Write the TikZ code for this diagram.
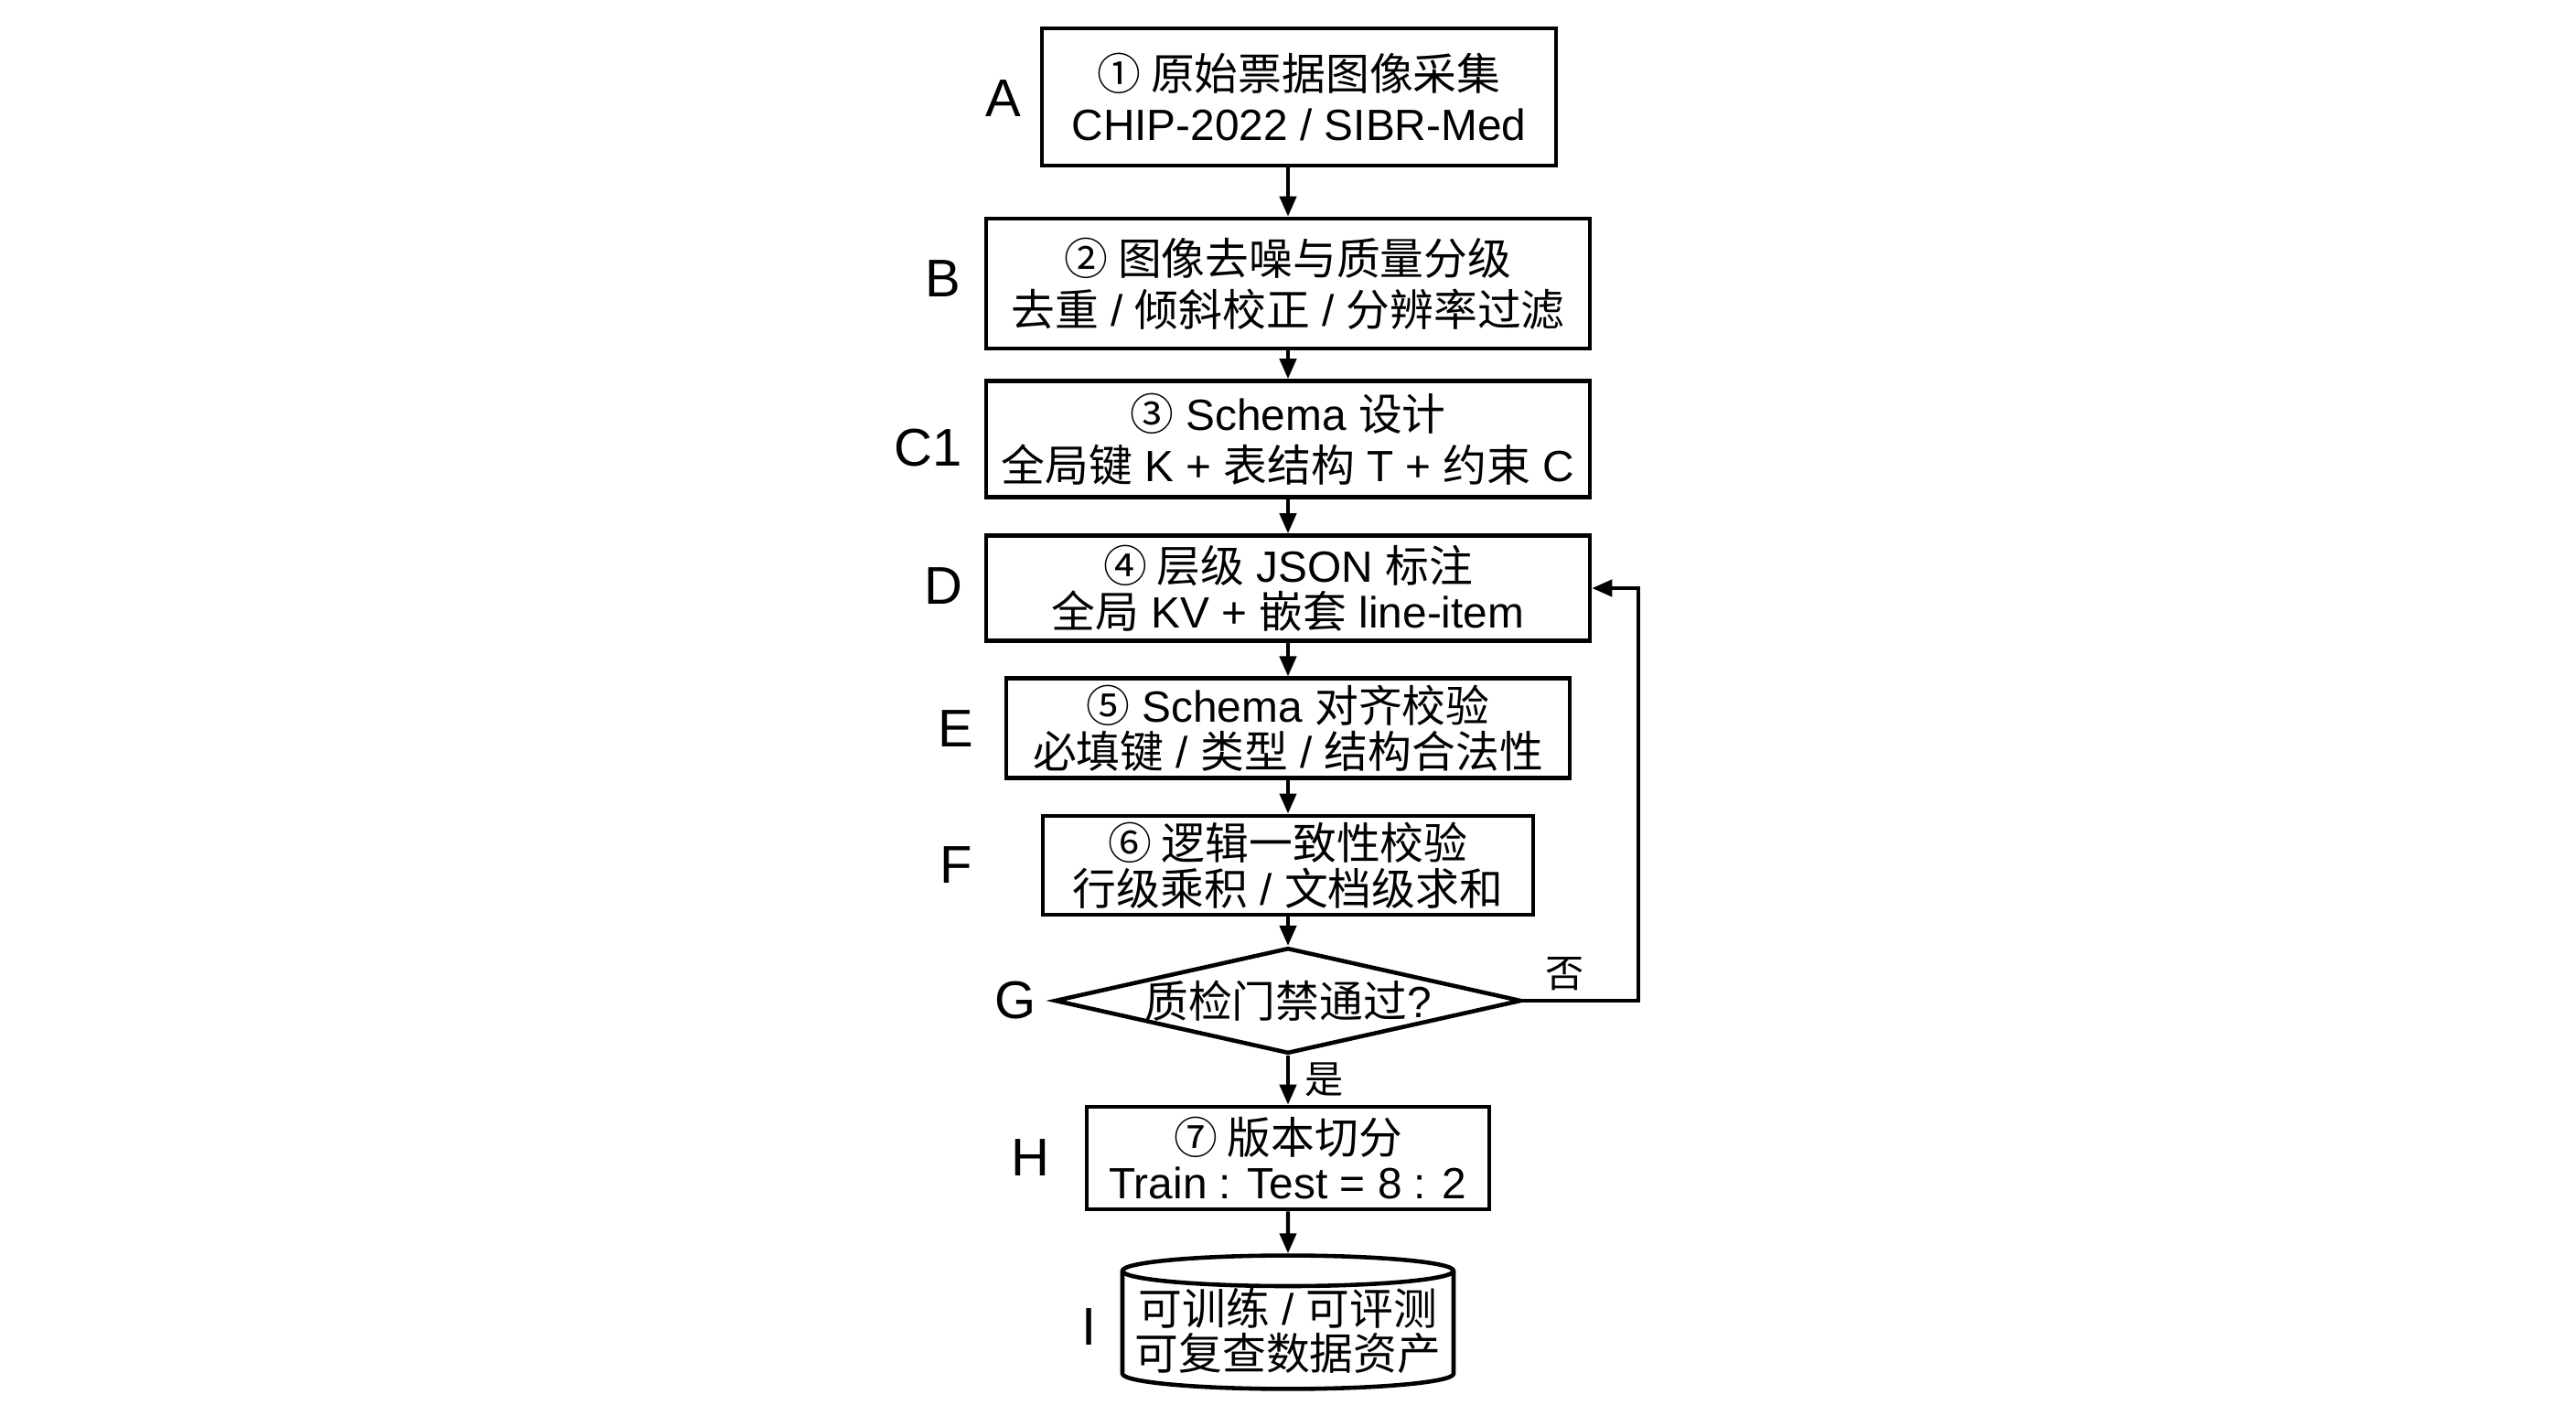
\documentclass[tikz,border=0pt]{standalone}
\usepackage{fontspec}
\setmainfont{Liberation Sans}
\newfontfamily\cjk{Noto Sans CJK SC}
\newcommand{\zh}[1]{{\cjk #1}}
\usetikzlibrary{shapes.geometric, arrows.meta, positioning}
\tikzset{
  stepbox/.style={rectangle, draw=black, line width=1.3pt, align=center,
    inner sep=2pt, font=\fontsize{13.6pt}{15.9pt}\selectfont},
  tight/.style={font=\fontsize{13.6pt}{14.2pt}\selectfont},
  gate/.style={diamond, draw=black, line width=1.3pt, aspect=4.4,
    inner sep=0pt, minimum width=5.10cm, minimum height=1.15cm,
    font=\fontsize{13.6pt}{15.9pt}\selectfont},
  store/.style={cylinder, shape border rotate=90, aspect=0.1, draw=black,
    line width=1.3pt, minimum width=3.62cm, minimum height=1.40cm,
    align=center, inner sep=0pt, font=\fontsize{13.6pt}{13.9pt}\selectfont},
  steplabel/.style={font=\fontsize{16.5pt}{18pt}\selectfont},
  branch/.style={font=\fontsize{12pt}{14pt}\selectfont},
  arrow/.style={-{Triangle[length=0.22cm,width=0.18cm]}, line width=1.2pt},
  line/.style={line width=1.2pt}
}

\begin{document}
\begin{tikzpicture}
  \fill[white] (0,0) rectangle (28.16,-15.36);
  \useasboundingbox (0,0) rectangle (28.16,-15.36);

  % pipeline steps
  \node[stepbox, minimum width=5.62cm, minimum height=1.50cm] (A) at (14.20,-1.06)
    {\zh{① 原始票据图像采集}\\CHIP-2022 / SIBR-Med};
  \node[stepbox, minimum width=6.60cm, minimum height=1.42cm] (B) at (14.08,-3.10)
    {\zh{② 图像去噪与质量分级}\\\zh{去重} / \zh{倾斜校正} / \zh{分辨率过滤}};
  \node[stepbox, minimum width=6.60cm, minimum height=1.27cm] (C1) at (14.08,-4.80)
    {\zh{③} Schema \zh{设计}\\\zh{全局键} K + \zh{表结构} T + \zh{约束} C};
  \node[stepbox, tight, minimum width=6.60cm, minimum height=1.15cm] (D) at (14.08,-6.43)
    {\zh{④ 层级} JSON \zh{标注}\\\zh{全局} KV + \zh{嵌套} line-item};
  \node[stepbox, tight, minimum width=6.16cm, minimum height=1.08cm] (E) at (14.08,-7.96)
    {\zh{⑤} Schema \zh{对齐校验}\\\zh{必填键} / \zh{类型} / \zh{结构合法性}};
  \node[stepbox, tight, minimum width=5.36cm, minimum height=1.07cm] (F) at (14.08,-9.46)
    {\zh{⑥ 逻辑一致性校验}\\\zh{行级乘积} / \zh{文档级求和}};
  \node[gate] (G) at (14.08,-10.94) {\zh{质检门禁通过}?};
  \node[stepbox, tight, minimum width=4.40cm, minimum height=1.12cm] (H) at (14.08,-12.66)
    {\zh{⑦ 版本切分}\\Train : Test = 8 : 2};
  \node[store] (I) at (14.08,-14.55)
    {\zh{可训练} / \zh{可评测}\\\zh{可复查数据资产}};

  % step letters
  \node[steplabel] (lA)  at (10.97,-1.08)  {A};
  \node[steplabel] (lB)  at (10.31,-3.05)  {B};
  \node[steplabel] (lC1) at (10.15,-4.90)  {C1};
  \node[steplabel] (lD)  at (10.31,-6.41)  {D};
  \node[steplabel] (lE)  at (10.45,-7.97)  {E};
  \node[steplabel] (lF)  at (10.45,-9.46)  {F};
  \node[steplabel] (lG)  at (11.10,-10.94) {G};
  \node[steplabel] (lH)  at (11.26,-12.66) {H};
  \node[steplabel] (lI)  at (11.91,-14.51) {I};

  % main flow
  \draw[arrow] (A.south -| B.north) -- (B.north);
  \draw[arrow] (B) -- (C1);
  \draw[arrow] (C1) -- (D);
  \draw[arrow] (D) -- (E);
  \draw[arrow] (E) -- (F);
  \draw[arrow] (F) -- (G);
  \draw[arrow] (G) -- (H);
  \draw[arrow] (H.south) -- (I.north);

  % rework loop
  \coordinate (back) at (17.91,-6.43);
  \draw[arrow] (G.east) -| (back) -- (D.east);
  \node[branch] (no)  at (17.11,-10.65) {\zh{否}};
  \node[branch] (yes) at (14.48,-11.80) {\zh{是}};
\end{tikzpicture}
\end{document}
